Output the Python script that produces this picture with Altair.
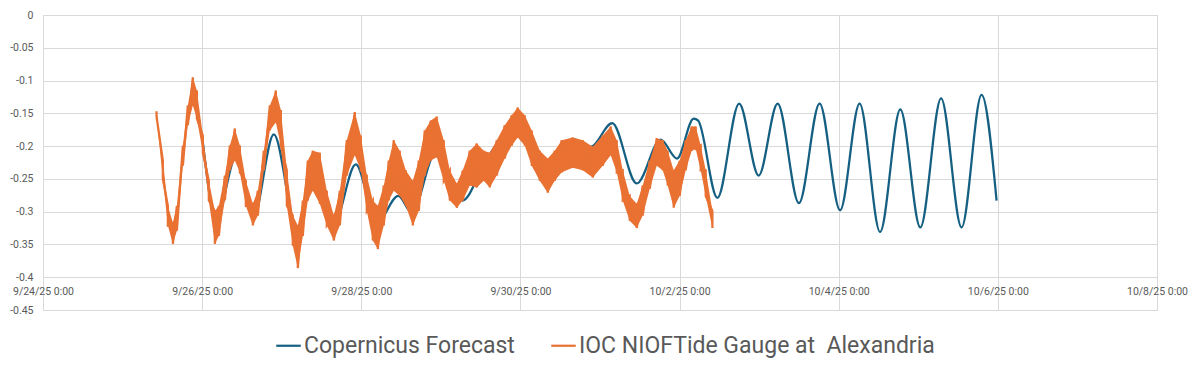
import altair as alt
import pandas as pd

SERIES = ["Copernicus Forecast", "IOC NIOFTide Gauge at\u00a0 Alexandria"]
BLUE = "#156082"
ORANGE = "#E97132"
FONT = "Roboto"
GRID = "#d9d9d9"
TEXT = "#595959"

START = pd.Timestamp("2025-09-24 00:00")

# Copernicus forecast: hours after 9/24/25 0:00 and sea level (m)
cop_hours = [48.0, 52.34, 58.16, 63.44, 69.62, 76.55, 81.68, 87.71, 94.34, 100.68,
             107.16, 111.23, 118.67, 126.45, 133.75, 143.79, 152.84, 160.37, 165.20, 171.68,
             179.07, 186.30, 191.22, 196.25, 197.61, 203.40, 209.97, 215.85, 221.58, 228.00,
             234.24, 240.42, 246.30, 252.48, 258.58, 264.61, 270.88, 277.06, 283.09, 287.61]
cop_level = [-0.185, -0.311, -0.217, -0.309, -0.182, -0.326, -0.253, -0.319, -0.228, -0.317,
             -0.276, -0.301, -0.207, -0.283, -0.220, -0.164, -0.228, -0.190, -0.201, -0.165,
             -0.257, -0.190, -0.219, -0.158, -0.161, -0.279, -0.135, -0.245, -0.135, -0.287,
             -0.135, -0.298, -0.135, -0.331, -0.144, -0.324, -0.127, -0.324, -0.122, -0.283]

# IOC NIOF tide gauge: hours after 9/24/25 0:00, upper and lower edge of the noisy trace (m)
obs_hours = [34.25, 36.15, 37.66, 39.17, 40.38, 42.19, 43.69, 45.20, 46.41, 48.21,
             50.02, 51.83, 53.04, 54.85, 56.36, 57.86, 59.37, 61.18, 63.29, 64.80,
             66.61, 68.42, 70.23, 71.73, 73.54, 75.35, 76.86, 78.37, 79.87, 81.38,
             83.49, 85.60, 87.71, 89.52, 91.63, 94.04, 95.85, 97.66, 99.47, 100.98,
             102.79, 104.29, 105.80, 107.61, 109.42, 111.53, 113.34, 115.15, 116.96, 118.77,
             120.88, 122.69, 124.80, 126.61, 128.72, 130.83, 132.94, 134.75, 136.86, 139.27,
             141.38, 143.19, 145.30, 147.41, 149.83, 152.24, 154.35, 156.46, 159.78, 162.79,
             165.81, 168.82, 171.24, 173.05, 174.86, 176.97, 179.08, 180.89, 183.00, 185.11,
             186.92, 188.42, 190.23, 192.04, 193.85, 195.66, 196.86, 198.37, 199.88, 201.90]
obs_high = [-0.147, -0.222, -0.291, -0.317, -0.291, -0.199, -0.138, -0.095, -0.115, -0.184,
            -0.253, -0.299, -0.291, -0.245, -0.199, -0.173, -0.199, -0.253, -0.288, -0.268,
            -0.207, -0.138, -0.115, -0.145, -0.237, -0.306, -0.321, -0.283, -0.222, -0.207,
            -0.210, -0.268, -0.306, -0.268, -0.191, -0.148, -0.184, -0.245, -0.283, -0.291,
            -0.260, -0.222, -0.191, -0.207, -0.237, -0.253, -0.222, -0.176, -0.161, -0.155,
            -0.191, -0.237, -0.257, -0.237, -0.207, -0.196, -0.207, -0.210, -0.191, -0.168,
            -0.153, -0.141, -0.153, -0.176, -0.207, -0.219, -0.207, -0.191, -0.187, -0.191,
            -0.201, -0.184, -0.170, -0.191, -0.237, -0.276, -0.288, -0.260, -0.222, -0.188,
            -0.191, -0.207, -0.237, -0.222, -0.191, -0.170, -0.170, -0.199, -0.237, -0.299]
obs_low = [-0.155, -0.250, -0.321, -0.349, -0.329, -0.230, -0.168, -0.138, -0.158, -0.210,
           -0.283, -0.349, -0.337, -0.283, -0.237, -0.222, -0.240, -0.291, -0.321, -0.306,
           -0.237, -0.176, -0.164, -0.199, -0.291, -0.352, -0.386, -0.337, -0.283, -0.268,
           -0.288, -0.321, -0.344, -0.321, -0.245, -0.214, -0.237, -0.299, -0.344, -0.357,
           -0.321, -0.283, -0.268, -0.276, -0.291, -0.321, -0.299, -0.245, -0.222, -0.217,
           -0.253, -0.283, -0.294, -0.283, -0.260, -0.263, -0.253, -0.263, -0.245, -0.219,
           -0.199, -0.187, -0.199, -0.230, -0.253, -0.271, -0.253, -0.240, -0.233, -0.237,
           -0.248, -0.230, -0.214, -0.240, -0.283, -0.314, -0.325, -0.306, -0.265, -0.230,
           -0.237, -0.260, -0.294, -0.276, -0.237, -0.207, -0.204, -0.237, -0.276, -0.325]

y_ticks = [0, -0.05, -0.1, -0.15, -0.2, -0.25, -0.3, -0.35, -0.4, -0.45]
x_tick_days = [24, 26, 28, 30, 2, 4, 6, 8]
x_tick_months = [9, 9, 9, 9, 10, 10, 10, 10]


def to_time(hours):
    return [START + pd.Timedelta(hours=h) for h in hours]


cop = pd.DataFrame({"time": to_time(cop_hours), "level": cop_level, "series": SERIES[0]})
band = pd.DataFrame({"time": to_time(obs_hours), "high": obs_high, "low": obs_low})
zig_rows = []
for i, (t, hi, lo) in enumerate(zip(to_time(obs_hours), obs_high, obs_low)):
    zig_rows.append({"time": t, "level": hi, "order": 2 * i, "series": SERIES[1]})
    zig_rows.append({"time": t, "level": lo, "order": 2 * i + 1, "series": SERIES[1]})
zig = pd.DataFrame(zig_rows)
both = pd.concat([cop.assign(order=range(len(cop))), zig], ignore_index=True)

x_values = [alt.DateTime(year=2025, month=m, date=d) for m, d in zip(x_tick_months, x_tick_days)]

x_enc = alt.X(
    "time:T", title=None,
    scale=alt.Scale(domain=[x_values[0], x_values[-1]]),
    axis=alt.Axis(values=x_values, format="%-m/%-d/%y %-H:%M", labelFont=FONT,
                  labelFontSize=10.5, labelColor=TEXT, ticks=False, domain=False,
                  offset=-33, labelPadding=9, gridColor=GRID, labelFlush=False,
                  labelOverlap=False),
)
y_scale = alt.Scale(domain=[-0.45, 0], nice=False)
y_axis = alt.Axis(values=y_ticks, labelExpr="datum.value == 0 ? '0' : '-' + format(abs(datum.value), '.2~f')",
                  labelFont=FONT, labelFontSize=10.5, labelColor=TEXT, ticks=False,
                  domain=False, labelPadding=10, gridColor=GRID)
y_enc = alt.Y("level:Q", title=None, scale=y_scale, axis=y_axis)
color_scale = alt.Scale(domain=SERIES, range=[BLUE, ORANGE])

legend_color = alt.Color(
    "series:N", scale=color_scale,
    legend=alt.Legend(title=None, orient="none", legendX=232, legendY=317,
                      direction="horizontal", symbolType="stroke", symbolSize=600,
                      symbolStrokeWidth=2.2, symbolOpacity=1, labelFontSize=23,
                      labelColor=TEXT, labelFont=FONT, columnPadding=31, labelOffset=2,
                      labelLimit=800),
)
plain_color = alt.Color("series:N", scale=color_scale, legend=None)

# invisible carrier of the legend
legend_layer = alt.Chart(both).mark_line(opacity=0, strokeWidth=2.2).encode(
    x=x_enc, y=y_enc, detail="series:N", order="order:Q", color=legend_color)

blue_line = alt.Chart(cop).mark_line(strokeWidth=2.25, interpolate="monotone").encode(
    x=x_enc, y=y_enc, color=plain_color)

orange_band = alt.Chart(band).mark_area(color=ORANGE, opacity=1).encode(
    x=x_enc, y=alt.Y("low:Q", title=None, scale=y_scale, axis=y_axis), y2="high:Q")

orange_line = alt.Chart(zig).mark_line(strokeWidth=2.25).encode(
    x=x_enc, y=y_enc, order="order:Q", color=plain_color)

chart = alt.layer(legend_layer, blue_line, orange_band, orange_line).properties(
    width=1114, height=295,
    padding={"left": 35, "top": 7, "right": 35, "bottom": 50},
    autosize=alt.AutoSizeParams(type="none"),
).configure_view(strokeWidth=0).configure(background="white")

chart.save("out.html", embed_options={"renderer": "svg", "actions": False})
